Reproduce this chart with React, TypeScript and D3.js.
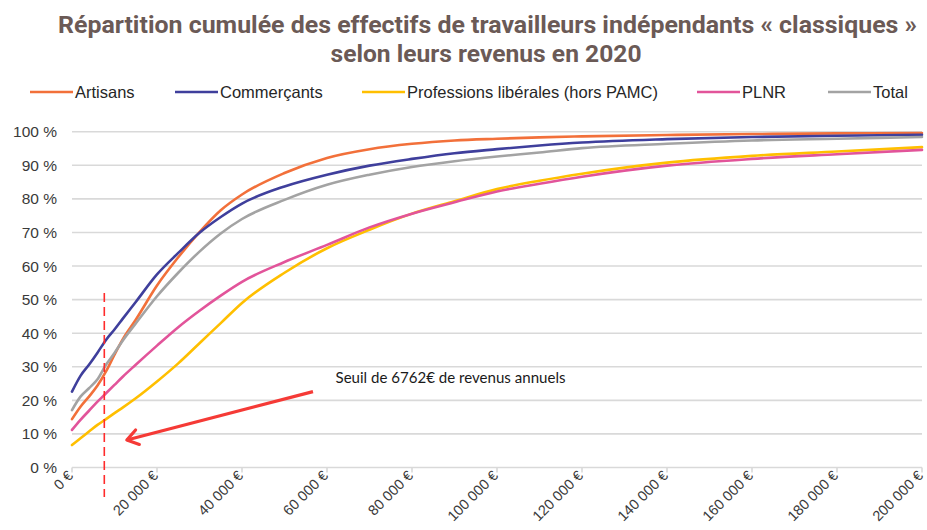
import { curveMonotoneX, line, scaleLinear } from "d3";

const WIDTH = 927;
const HEIGHT = 530;
const MARGIN = { top: 131.7, right: 5, bottom: 62.5, left: 72 };

// revenus annuels (€)
const incomes = [
  0, 2000, 4000, 6000, 8000, 10000, 12000, 15000, 20000, 25000, 30000, 35000,
  40000, 50000, 60000, 70000, 80000, 90000, 100000, 110000, 120000, 140000,
  160000, 180000, 200000,
];

// part cumulée des effectifs (%)
const artisans = [
  14.4, 18.1, 21.1, 24.4, 28.6, 33.6, 38.3, 44.0, 54.2, 62.6, 70.1, 76.6, 81.3,
  87.7, 92.2, 94.8, 96.4, 97.4, 97.9, 98.3, 98.6, 99.0, 99.3, 99.5, 99.6,
];
const commercants = [
  22.6, 27.3, 30.6, 34.2, 38.0, 41.1, 44.4, 49.3, 57.5, 63.9, 69.9, 74.6, 78.6,
  83.7, 87.2, 89.9, 91.9, 93.6, 94.8, 95.9, 96.8, 97.8, 98.4, 98.8, 99.1,
];
const liberales = [
  6.7, 8.7, 10.7, 12.7, 14.4, 16.2, 17.9, 20.6, 25.6, 31.0, 37.0, 43.0, 49.0,
  58.0, 65.3, 70.8, 75.6, 79.3, 82.9, 85.4, 87.5, 90.8, 92.8, 94.1, 95.4,
];
const plnr = [
  11.2, 14.2, 16.9, 19.6, 22.1, 24.6, 27.1, 30.6, 36.3, 41.8, 46.7, 51.2, 55.3,
  61.2, 66.3, 71.5, 75.6, 79.0, 82.2, 84.5, 86.6, 89.9, 91.9, 93.3, 94.6,
];
const total = [
  17.1, 21.1, 23.6, 26.3, 30.6, 34.1, 37.9, 42.9, 51.0, 58.0, 64.3, 69.7, 74.0,
  79.7, 84.2, 87.2, 89.5, 91.2, 92.6, 93.8, 95.1, 96.4, 97.4, 97.9, 98.4,
];

const seriesNames = [
  "Artisans",
  "Commerçants",
  "Professions libérales (hors PAMC)",
  "PLNR",
  "Total",
];
const seriesValues = [artisans, commercants, liberales, plnr, total];
const seriesColors = ["#f2703a", "#3f3f9c", "#ffbf00", "#e2549a", "#a3a3a3"];

const yTicks = [0, 10, 20, 30, 40, 50, 60, 70, 80, 90, 100];
const xTicks = [
  0, 20000, 40000, 60000, 80000, 100000, 120000, 140000, 160000, 180000, 200000,
];

// seuil (position) et annotation
const threshold = { income: 7600, top: 52 };
const arrow = { from: [56700, 22.6], to: [12900, 8.2] };
const noteAt = [62000, 25.3];
const noteText = "Seuil de 6762€ de revenus annuels";

// légende : début du trait de chaque entrée
const legendX = [30, 175, 362, 697, 828];

const fmtEuro = (v: number) =>
  `${v.toLocaleString("fr-FR").replace(/\s/g, " ")} €`;

export default function App() {
  const x = scaleLinear()
    .domain([0, 200000])
    .range([MARGIN.left, WIDTH - MARGIN.right]);
  const y = scaleLinear()
    .domain([0, 100])
    .range([HEIGHT - MARGIN.bottom, MARGIN.top]);

  const makeLine = (values: number[]) =>
    line<number>()
      .x((_, i) => x(incomes[i]))
      .y((d) => y(d))
      .curve(curveMonotoneX)(values) ?? "";

  const axisFont = "'Liberation Sans', Arial, sans-serif";

  return (
    <svg
      width={WIDTH}
      height={HEIGHT}
      viewBox={`0 0 ${WIDTH} ${HEIGHT}`}
      style={{ position: "absolute", left: 0, top: 0, background: "#fff" }}
    >
      <defs>
        <marker
          id="arrowHead"
          markerUnits="userSpaceOnUse"
          markerWidth="30"
          markerHeight="30"
          viewBox="-15 -15 30 30"
          refX="0"
          refY="0"
          orient="auto"
        >
          <path
            d="M -11 -7.5 L 0 0 L -11 7.5"
            fill="none"
            stroke="#f53a36"
            strokeWidth="3.2"
            strokeLinecap="round"
            strokeLinejoin="round"
          />
        </marker>
      </defs>

      {/* titre */}
      <g
        fill="#6b5a56"
        fontFamily="Roboto, 'Noto Sans', sans-serif"
        fontWeight="700"
        fontSize="23"
        textAnchor="middle"
      >
        <text x={487.5} y={33} textLength={859} lengthAdjust="spacingAndGlyphs">
          Répartition cumulée des effectifs de travailleurs indépendants « classiques »
        </text>
        <text x={486} y={62} textLength={311} lengthAdjust="spacingAndGlyphs">
          selon leurs revenus en 2020
        </text>
      </g>

      {/* légende */}
      <g fontFamily={axisFont} fontSize="16.5" fill="#262626">
        {seriesNames.map((name, i) => (
          <g key={name} transform={`translate(${legendX[i]},92)`}>
            <line x1={0} x2={43} y1={0} y2={0} stroke={seriesColors[i]} strokeWidth={2.6} />
            <text x={45} y={6}>
              {name}
            </text>
          </g>
        ))}
      </g>

      {/* grille et axe des ordonnées */}
      <g fontFamily={axisFont} fontSize="15.5" fill="#3a3a3a">
        {yTicks.map((t) => (
          <g key={t}>
            <line
              x1={x(0)}
              x2={x(200000)}
              y1={y(t)}
              y2={y(t)}
              stroke="#d9d9d9"
              strokeWidth={1.6}
            />
            <text x={57} y={y(t) + 5.5} textAnchor="end">
              {`${t} %`}
            </text>
          </g>
        ))}
      </g>

      {/* axe des abscisses */}
      <g fontFamily={axisFont} fontSize="14.5" fill="#3a3a3a">
        {xTicks.map((t) => (
          <g key={t}>
            <line
              x1={x(t)}
              x2={x(t)}
              y1={y(0)}
              y2={y(0) + 5}
              stroke="#d9d9d9"
              strokeWidth={1.6}
            />
            <text
              textAnchor="end"
              transform={`translate(${x(t) + 2},${y(0) + 9}) rotate(-45)`}
            >
              {fmtEuro(t)}
            </text>
          </g>
        ))}
      </g>

      {/* courbes */}
      <g fill="none" strokeWidth={2.6} strokeLinejoin="round" strokeLinecap="round">
        {seriesValues.map((values, i) => (
          <path key={seriesNames[i]} d={makeLine(values)} stroke={seriesColors[i]} />
        ))}
      </g>

      {/* seuil */}
      <line
        x1={x(threshold.income)}
        x2={x(threshold.income)}
        y1={y(threshold.top)}
        y2={HEIGHT - 33}
        stroke="#ff2b2b"
        strokeWidth={1.6}
        strokeDasharray="9 5"
      />
      <line
        x1={x(arrow.from[0])}
        y1={y(arrow.from[1])}
        x2={x(arrow.to[0])}
        y2={y(arrow.to[1])}
        stroke="#f53a36"
        strokeWidth={3.2}
        markerEnd="url(#arrowHead)"
      />
      <text
        x={x(noteAt[0])}
        y={y(noteAt[1])}
        fontFamily="Lato, 'Noto Sans', sans-serif"
        fontSize="16"
        fill="#1a1a1a"
        textLength={230}
        lengthAdjust="spacingAndGlyphs"
      >
        {noteText}
      </text>
    </svg>
  );
}
